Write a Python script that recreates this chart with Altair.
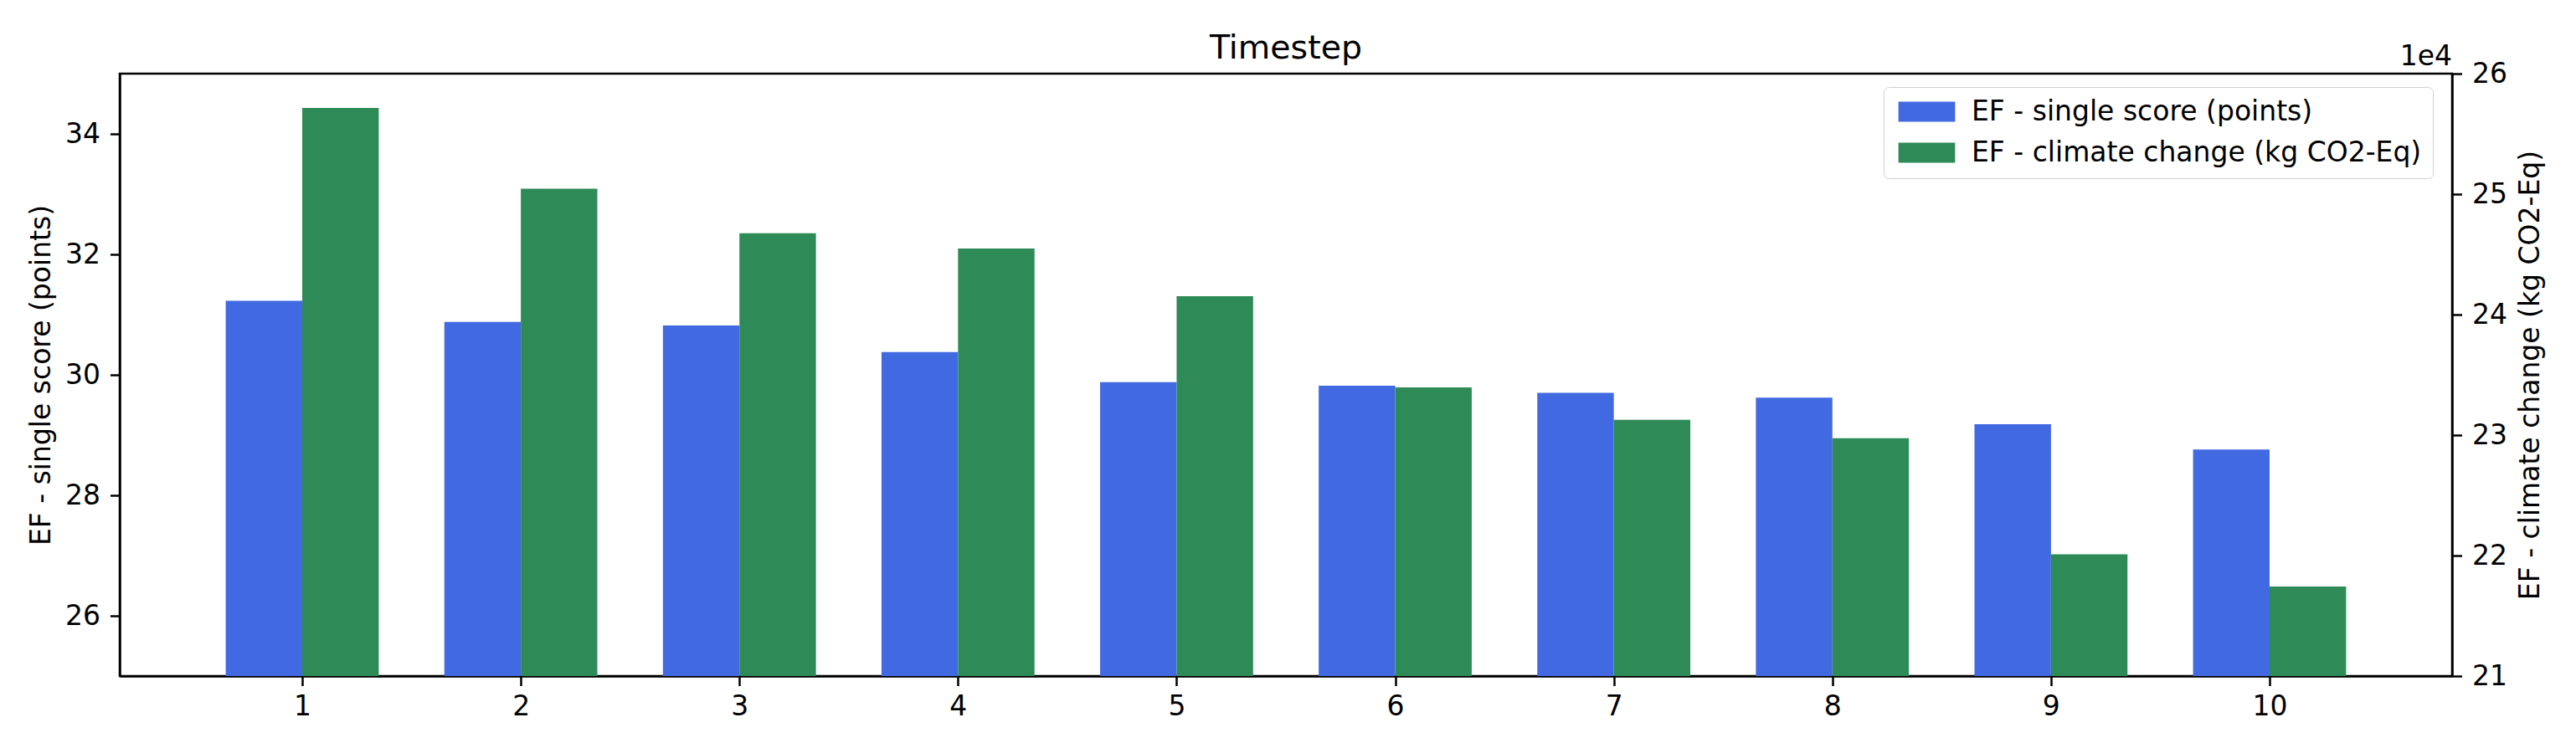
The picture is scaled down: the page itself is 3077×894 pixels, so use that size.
import altair as alt
import pandas as pd

timesteps = [1, 2, 3, 4, 5, 6, 7, 8, 9, 10]
single_score = [31.23, 30.88, 30.82, 30.38, 29.88, 29.82, 29.70, 29.62, 29.18, 28.76]
climate_change = [257150, 250460, 246750, 245480, 241520, 233950, 231270, 229740, 220110, 217430]
series_names = ["EF - single score (points)", "EF - climate change (kg CO2-Eq)"]
series_colors = ["#4169E1", "#2E8B57"]
left_ticks = [26, 28, 30, 32, 34]
right_ticks = [210000, 220000, 230000, 240000, 250000, 260000]

df = pd.DataFrame({"t": timesteps, "score": single_score, "climate": climate_change})

W, H = 2786, 720
FONT = "DejaVu Sans"
FS = 33

xscale = alt.Scale(domain=[0.165, 10.835], nice=False, zero=False)
color_scale = alt.Scale(domain=series_names, range=series_colors)
left_scale = alt.Scale(domain=[25, 35], nice=False, zero=False)
right_scale = alt.Scale(domain=[210000, 260000], nice=False, zero=False)

xaxis = alt.Axis(values=timesteps, format="d", title=None, grid=False, labelFontSize=FS,
                 labelFont=FONT, labelColor="black", tickSize=11.5, tickWidth=2.5, tickColor="black",
                 domainColor="black", domainWidth=2.5, labelPadding=9, labelFlush=False)

legend = alt.Legend(
    title=None, orient="none", legendX=2107, legendY=16,
    symbolType="M-2.82,-1H2.82V1H-2.82Z", symbolSize=576, symbolStrokeWidth=0,
    symbolOffset=22, labelOffset=37,
    labelFont=FONT, labelFontSize=FS, labelColor="black", labelLimit=0,
    fillColor="white", strokeColor="#d0d0d0", cornerRadius=6, padding=13, rowPadding=15,
)

blue = alt.Chart(df).transform_calculate(
    x0="datum.t - 0.35", s="'" + series_names[0] + "'"
).mark_bar(clip=True).encode(
    x=alt.X("x0:Q", scale=xscale, axis=xaxis),
    x2="t:Q",
    y=alt.Y("score:Q", scale=left_scale,
            axis=alt.Axis(orient="left", values=left_ticks, title="EF - single score (points)",
                          grid=False, labelFontSize=FS, labelFont=FONT, labelColor="black",
                          titleFontSize=FS, titleFont=FONT, titleFontWeight="normal", titleColor="black",
                          tickSize=11.5, tickWidth=2.5, tickColor="black", domainColor="black",
                          domainWidth=2.5, labelPadding=12, titleAngle=270, titleBaseline="alphabetic",
                          titleX=-84, titleY=H / 2, titleAlign="center")),
    y2=alt.datum(25),
    color=alt.Color("s:N", scale=color_scale, legend=legend),
)

green = alt.Chart(df).transform_calculate(
    x1="datum.t + 0.35", s="'" + series_names[1] + "'"
).mark_bar(clip=True).encode(
    x=alt.X("t:Q", scale=xscale, axis=xaxis),
    x2="x1:Q",
    y=alt.Y("climate:Q", scale=right_scale,
            axis=alt.Axis(orient="right", values=right_ticks, labelExpr="datum.value / 10000",
                          title="EF - climate change (kg CO2-Eq)",
                          grid=False, labelFontSize=FS, labelFont=FONT, labelColor="black",
                          titleFontSize=FS, titleFont=FONT, titleFontWeight="normal", titleColor="black",
                          tickSize=11.5, tickWidth=2.5, tickColor="black", domainColor="black",
                          domainWidth=2.5, labelPadding=12, titleAngle=270, titleBaseline="alphabetic",
                          titleX=103, titleY=H / 2, titleAlign="center")),
    y2=alt.datum(210000),
    color=alt.Color("s:N", scale=color_scale, legend=legend),
)

exp_label = alt.Chart(pd.DataFrame({"lab": ["1e4"]})).mark_text(
    align="right", baseline="alphabetic", fontSize=FS, font=FONT, color="black"
).encode(text="lab:N", x=alt.value(W), y=alt.value(-10))

chart = alt.layer(blue, green, exp_label).resolve_scale(y="independent").properties(
    width=W, height=H,
    title=alt.TitleParams("Timestep", fontSize=39.5, font=FONT, fontWeight="normal", color="black",
                          anchor="middle", frame="group", offset=4, dy=30),
    autosize=alt.AutoSizeParams(type="none"),
    padding={"left": 135, "top": 80, "right": 120, "bottom": 60},
).configure(font=FONT).configure_view(stroke="black", strokeWidth=2.5)

chart.save("out.html", embed_options={"renderer": "svg", "actions": False})
